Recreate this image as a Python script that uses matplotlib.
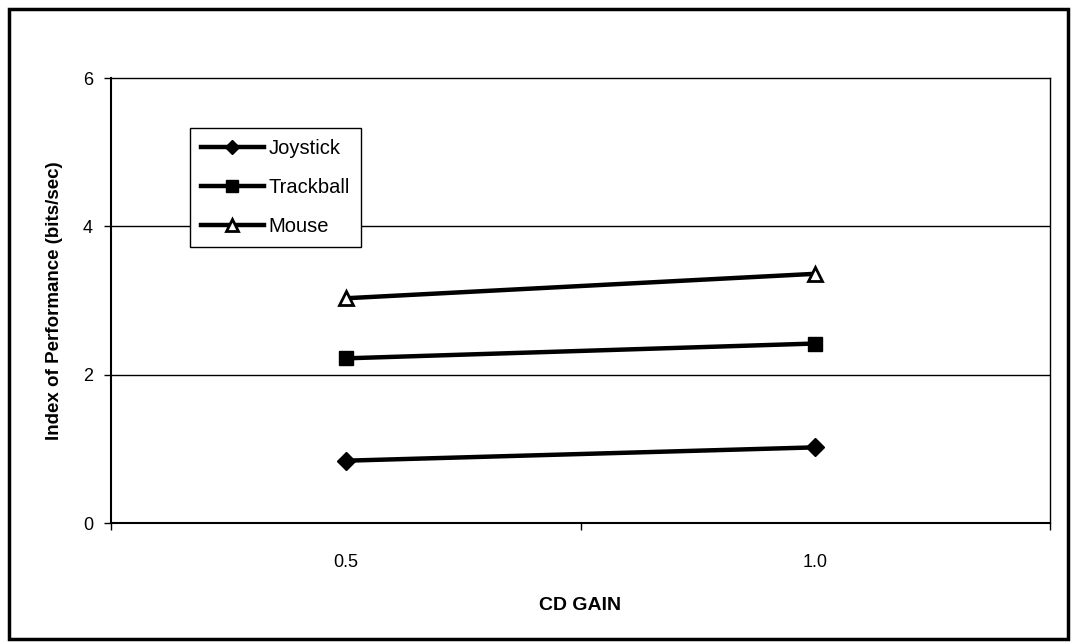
import matplotlib
matplotlib.use("Agg")
import matplotlib.pyplot as plt
from matplotlib.patches import Rectangle

plt.rcParams['font.family'] = ['Liberation Sans', 'DejaVu Sans']

# data
gains = ['0.5', '1.0']
joystick = [0.84, 1.02]
trackball = [2.22, 2.42]
mouse = [3.03, 3.36]
y_ticks = [0, 2, 4, 6]

W, H = 1072, 643
fig = plt.figure(figsize=(W / 100, H / 100), dpi=100)
ax = fig.add_axes([111 / W, 1 - 523 / H, (1050 - 111) / W, (523 - 78) / H])

x = list(range(len(gains)))
ax.plot(x, joystick, color='black', lw=3.2, marker='D', ms=9, mfc='black', mec='black', label='Joystick')
ax.plot(x, trackball, color='black', lw=3.2, marker='s', ms=10, mfc='black', mec='black', label='Trackball')
ax.plot(x, mouse, color='black', lw=3.2, marker='^', ms=10, mfc='white', mec='black', mew=2, label='Mouse')

ax.set_xlim(-0.5, len(gains) - 0.5)
ax.set_ylim(0, 6)
ax.set_yticks(y_ticks)
ax.set_yticklabels([str(v) for v in y_ticks], fontsize=13)
ax.set_xticks(x)
ax.set_xticklabels(gains, fontsize=13)
ax.tick_params(axis='x', length=0, pad=22)
ax.set_xticks([-0.5, 0.5, 1.5], minor=True)
ax.tick_params(axis='x', which='minor', length=5, direction='out', width=1)
ax.tick_params(axis='y', length=5, direction='out', width=1, pad=8)

for v in y_ticks[1:-1]:
    ax.axhline(v, color='black', lw=1, zorder=1)
for side in ['top', 'right']:
    ax.spines[side].set_linewidth(1)
ax.spines['left'].set_linewidth(1.5)
ax.spines['bottom'].set_linewidth(1.5)

ax.set_xlabel('CD GAIN', fontsize=14, fontweight='bold', labelpad=19)
ax.set_ylabel('Index of Performance (bits/sec)', fontsize=13.5, fontweight='bold', labelpad=14)

leg = ax.legend(loc='upper left', bbox_to_anchor=(190 / W, 1 - 128 / H), bbox_transform=fig.transFigure,
                borderaxespad=0, fontsize=14.5, frameon=True, fancybox=False, handlelength=3.1,
                labelspacing=1.0, handletextpad=0.25, borderpad=0.55, framealpha=1, markerscale=0.8)
leg.get_frame().set_edgecolor('black')
leg.get_frame().set_linewidth(1)

# outer frame around the whole chart
fig.patches.append(Rectangle((9 / W, 4 / H), 1 - 13 / W, 1 - 13 / H, transform=fig.transFigure,
                             fill=False, edgecolor='black', lw=2.5))

fig.savefig('out.png', dpi=100)
